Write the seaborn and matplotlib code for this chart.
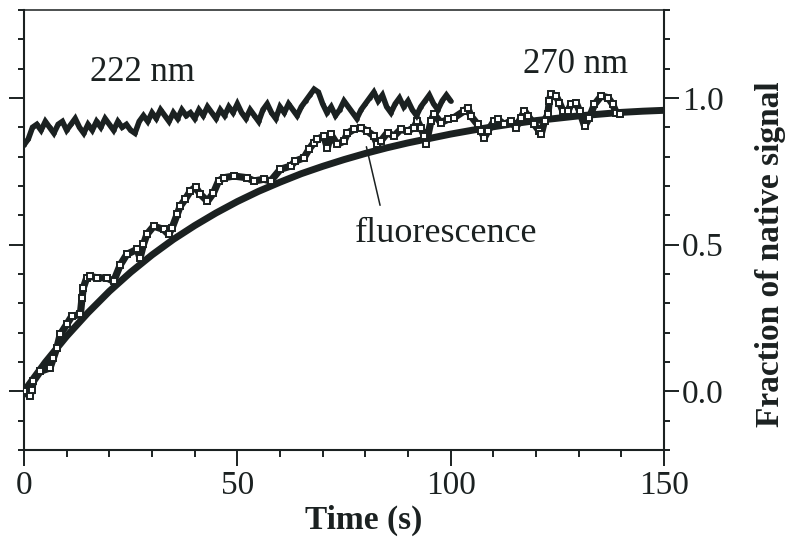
import numpy as np
import pandas as pd
import matplotlib
matplotlib.use("Agg")
import matplotlib.pyplot as plt
import seaborn as sns
from matplotlib.ticker import MultipleLocator

# ---------------- data ----------------
# 222 nm far-UV CD trace (every 1 s, 0..100 s)
t_222 = list(range(0, 101))
y_222 = [0.84, 0.86, 0.90, 0.91, 0.89, 0.92, 0.90, 0.88, 0.91, 0.92,
         0.89, 0.91, 0.93, 0.90, 0.88, 0.91, 0.89, 0.92, 0.90, 0.93,
         0.91, 0.89, 0.92, 0.90, 0.91, 0.89, 0.88, 0.92, 0.94, 0.92,
         0.95, 0.93, 0.96, 0.94, 0.92, 0.95, 0.93, 0.96, 0.94, 0.95,
         0.93, 0.96, 0.94, 0.97, 0.95, 0.93, 0.96, 0.94, 0.97, 0.95,
         0.98, 0.95, 0.93, 0.96, 0.94, 0.92, 0.96, 0.98, 0.95, 0.93,
         0.97, 0.95, 0.98, 0.96, 0.94, 0.97, 0.99, 1.01, 1.03, 1.02,
         0.98, 0.95, 0.97, 0.94, 0.96, 0.99, 0.97, 0.95, 0.93, 0.96,
         0.98, 1.00, 1.02, 0.99, 1.01, 0.97, 0.95, 0.98, 1.00, 0.97,
         0.99, 0.96, 0.94, 0.97, 0.99, 1.01, 0.98, 0.96, 0.99, 1.01, 0.99]

# 270 nm near-UV CD trace (open squares)
t_270 = [0.0, 1.4, 1.8, 2.2, 3.8, 6.1, 6.9, 7.7, 8.5, 10.0, 11.2, 13.2, 13.6,
         13.9, 14.7, 15.5, 17.1, 19.4, 21.0, 22.6, 24.1, 26.5, 27.2, 28.0,
         28.8, 30.4, 32.7, 33.9, 34.7, 35.9, 36.6, 37.8, 39.0, 40.2, 41.3,
         43.0, 44.4, 45.6, 46.8, 49.2, 52.3, 53.9, 56.2, 57.8, 60.1, 62.5,
         63.6, 65.6, 66.8, 67.9, 68.7, 70.3, 71.1, 71.9, 73.4, 75.0, 75.8,
         77.3, 78.9, 80.5, 82.0, 82.8, 83.6, 85.2, 86.7, 88.3, 89.9, 91.4,
         92.2, 93.0, 93.8, 94.2, 95.4, 96.1, 97.7, 99.3, 100.8, 103.2, 104.0,
         104.7, 106.3, 107.1, 107.9, 108.7, 110.2, 111.0, 112.6, 114.1, 115.3,
         116.5, 117.3, 118.1, 119.6, 120.8, 121.2, 122.0, 122.8, 123.1, 123.5,
         124.7, 125.5, 126.3, 127.5, 128.2, 129.4, 130.2, 131.4, 132.5, 133.7,
         135.3, 136.9, 138.0, 138.8, 139.6]
y_270 = [0.00, -0.017, 0.006, 0.034, 0.068, 0.080, 0.114, 0.148, 0.194, 0.228,
         0.256, 0.262, 0.318, 0.353, 0.387, 0.392, 0.387, 0.387, 0.375, 0.432,
         0.467, 0.484, 0.455, 0.501, 0.535, 0.563, 0.552, 0.535, 0.557, 0.603,
         0.631, 0.655, 0.683, 0.696, 0.672, 0.648, 0.676, 0.717, 0.728, 0.734,
         0.728, 0.717, 0.723, 0.717, 0.757, 0.768, 0.785, 0.796, 0.825, 0.847,
         0.859, 0.870, 0.830, 0.876, 0.842, 0.853, 0.880, 0.893, 0.899, 0.887,
         0.870, 0.842, 0.853, 0.882, 0.870, 0.893, 0.887, 0.899, 0.922, 0.899,
         0.870, 0.842, 0.922, 0.944, 0.916, 0.927, 0.933, 0.956, 0.967, 0.939,
         0.910, 0.887, 0.865, 0.887, 0.922, 0.927, 0.910, 0.922, 0.899, 0.933,
         0.956, 0.939, 0.910, 0.887, 0.876, 0.922, 0.944, 0.990, 1.013, 1.007,
         0.984, 0.956, 0.956, 0.978, 0.984, 0.956, 0.904, 0.933, 0.978, 1.007,
         1.001, 0.978, 0.950, 0.944]

# fluorescence (smooth)
t_fl = [0, 5, 10, 15, 20, 25, 30, 35, 40, 45, 50, 55, 60, 65, 70, 75, 80,
        85, 90, 95, 100, 105, 110, 115, 120, 125, 130, 135, 140, 145, 150]
y_fl = [0.0, 0.099, 0.188, 0.268, 0.341, 0.406, 0.465, 0.518, 0.565, 0.608,
        0.647, 0.682, 0.713, 0.742, 0.767, 0.790, 0.811, 0.830, 0.847, 0.862,
        0.877, 0.890, 0.902, 0.913, 0.923, 0.931, 0.939, 0.945, 0.951, 0.955,
        0.958]

x_ticks = [0, 50, 100, 150]
y_ticks = [0.0, 0.5, 1.0]
y_tick_labels = ["0.0", "0.5", "1.0"]

# ---------------- style ----------------
sns.set_style("white")
ink = "#1b2121"
plt.rcParams["font.family"] = ["Liberation Serif", "DejaVu Serif"]
plt.rcParams["text.color"] = ink
plt.rcParams["axes.labelcolor"] = ink
plt.rcParams["xtick.color"] = ink
plt.rcParams["ytick.color"] = ink

fig = plt.figure(figsize=(7.85, 5.38), dpi=100)
ax = fig.add_axes([24 / 785, 1 - 450 / 538, 640 / 785, 440 / 538])

df222 = pd.DataFrame({"t": t_222, "y": y_222})
df270 = pd.DataFrame({"t": t_270, "y": y_270})
dffl = pd.DataFrame({"t": t_fl, "y": y_fl})

sns.lineplot(data=dffl, x="t", y="y", ax=ax, color=ink, lw=5.0,
             estimator=None, sort=False, solid_capstyle="round", zorder=2)
sns.lineplot(data=df270, x="t", y="y", ax=ax, color=ink, lw=5.2,
             estimator=None, sort=False, marker="s", markersize=4.4,
             markerfacecolor="white", markeredgecolor=ink,
             markeredgewidth=1.4, solid_joinstyle="round", zorder=3)
sns.lineplot(data=df222, x="t", y="y", ax=ax, color=ink, lw=4.0,
             estimator=None, sort=False, marker="o", markersize=3.2,
             markeredgewidth=0, solid_joinstyle="miter",
             solid_capstyle="round", zorder=3)

ax.set_xlim(0, 150)
ax.set_ylim(-0.2, 1.3)

ax.set_xticks(x_ticks)
ax.set_xticklabels([str(v) for v in x_ticks])
ax.xaxis.set_minor_locator(MultipleLocator(10))
ax.set_yticks(y_ticks)
ax.set_yticklabels(y_tick_labels)
ax.yaxis.set_minor_locator(MultipleLocator(0.1))

ax.yaxis.set_ticks_position("both")
ax.xaxis.set_ticks_position("bottom")
ax.tick_params(axis="y", which="both", direction="out", labelleft=False,
               labelright=True, labelsize=24, pad=2)
ax.tick_params(axis="y", which="major", length=11, width=1.4)
ax.tick_params(axis="y", which="minor", length=4.5, width=1.4)
ax.tick_params(axis="x", which="both", direction="out", labelsize=24, pad=3)
ax.tick_params(axis="x", which="major", length=11.5, width=1.4)
ax.tick_params(axis="x", which="minor", length=5, width=1.4)

for side in ["left", "right", "bottom"]:
    ax.spines[side].set_linewidth(1.5)
    ax.spines[side].set_color(ink)
ax.spines["top"].set_linewidth(1.1)
ax.spines["top"].set_color(ink)

ax.set_xlabel("")
ax.set_ylabel("")
fig.text(364 / 785, 1 - 520 / 538, "Time (s)", ha="center", va="center",
         fontsize=24, fontweight="bold")
fig.text(771 / 785, 1 - 254 / 538, "Fraction of native signal", ha="center",
         va="center", rotation=90, fontsize=24, fontweight="bold")

ax.text(27.7, 1.058, "222 nm", ha="center", va="baseline", fontsize=25)
ax.text(129.2, 1.086, "270 nm", ha="center", va="baseline", fontsize=25)
ax.text(98.9, 0.508, "fluorescence", ha="center", va="baseline", fontsize=26)
ax.annotate("", xy=(80.1, 0.843), xytext=(83.6, 0.625),
            arrowprops=dict(arrowstyle="-", color=ink, lw=1.1))

fig.savefig("out.png", dpi=100, facecolor="white")
